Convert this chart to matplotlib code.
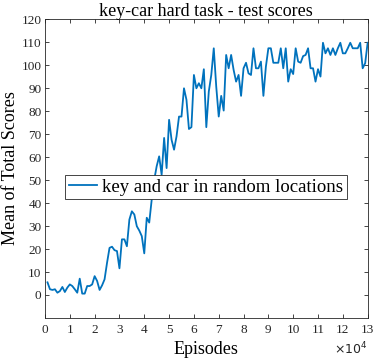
import numpy as np
import matplotlib
matplotlib.use("Agg")
import matplotlib.pyplot as plt

# test score every 1000 episodes
episodes = np.arange(1000, 131000, 1000)
scores = [
    5.5, 2.5, 2.2, 2.5, 1.0, 1.7, 3.5, 1.3, 3.2,
    4.6, 3.9, 2.5, 1.0, 7.1, 0.6, 0.6, 3.9, 3.9, 4.6,
    8.2, 6.1, 2.2, 4.2, 6.8, 14.0, 20.5, 21.0, 19.5, 19.1,
    11.6, 24.2, 24.2, 21.2, 32.8, 36.4, 35.0, 29.9, 28.0, 25.6,
    18.1, 33.6, 31.5, 41.5, 50.0, 56.0, 60.3, 52.3, 68.3, 55.2,
    76.2, 67.5, 63.2, 69.0, 77.6, 77.6, 89.9, 84.9, 72.2, 73.0,
    95.7, 89.9, 92.1, 89.9, 98.2, 73.0, 88.5, 95.7, 107.3, 90.6,
    77.6, 86.6, 80.2, 104.4, 98.6, 104.4, 97.9, 92.8, 95.7, 86.6,
    98.6, 101.0, 96.4, 95.7, 107.3, 98.6, 98.6, 101.5, 86.6, 99.3,
    107.3, 107.3, 101.0, 101.0, 101.0, 107.3, 98.6, 107.3, 92.8, 98.2,
    96.1, 107.3, 101.5, 101.0, 103.9, 104.4, 107.3, 98.6, 98.6, 92.8,
    98.2, 95.0, 109.7, 105.1, 107.3, 104.4, 107.3, 104.4, 107.3, 109.7,
    105.1, 105.1, 107.3, 109.7, 107.3, 107.3, 107.3, 109.7, 98.6, 100.8,
    109.7,
]
x_ticks = list(range(0, 14))
y_ticks = list(range(0, 130, 10))

plt.rcParams["font.family"] = ["Liberation Serif", "DejaVu Serif"]

fig = plt.figure(figsize=(3.74, 3.6), dpi=100, facecolor="white")
ax = fig.add_axes([0.1203, 0.1167, 0.8627, 0.8303])

ax.plot(episodes / 1e4, scores, color="#0072BD", lw=1.3,
        label="key and car in random locations")

ax.set_xlim(0, 13)
ax.set_ylim(-10, 120)
ax.set_xticks(x_ticks)
ax.set_yticks(y_ticks)
ax.tick_params(direction="in", top=True, right=True, labelsize=9.5,
               length=3, width=0.6, colors="#262626", pad=2.5)
ax.tick_params(axis="x", pad=4)
for s in ax.spines.values():
    s.set_linewidth(0.6)
    s.set_color("#262626")

ax.set_title("key-car hard task - test scores", fontsize=13, pad=2)
ax.set_xlabel("Episodes", fontsize=13, labelpad=4)
ax.set_ylabel("Mean of Total Scores", fontsize=13)
ax.yaxis.set_label_coords(-0.082, 0.5)
fig.text(0.983, 0.008, r"$\times10^4$", ha="right", va="bottom",
         fontsize=9, color="#262626", family="DejaVu Serif")

leg = ax.legend(loc="center left", bbox_to_anchor=(0.062, 0.438),
                fontsize=13.5, fancybox=False, framealpha=1,
                edgecolor="#262626", handlelength=1.5, handletextpad=0.3,
                borderpad=0.2, borderaxespad=0)
leg.get_frame().set_linewidth(0.6)

fig.savefig("out.png", dpi=100, facecolor="white")
